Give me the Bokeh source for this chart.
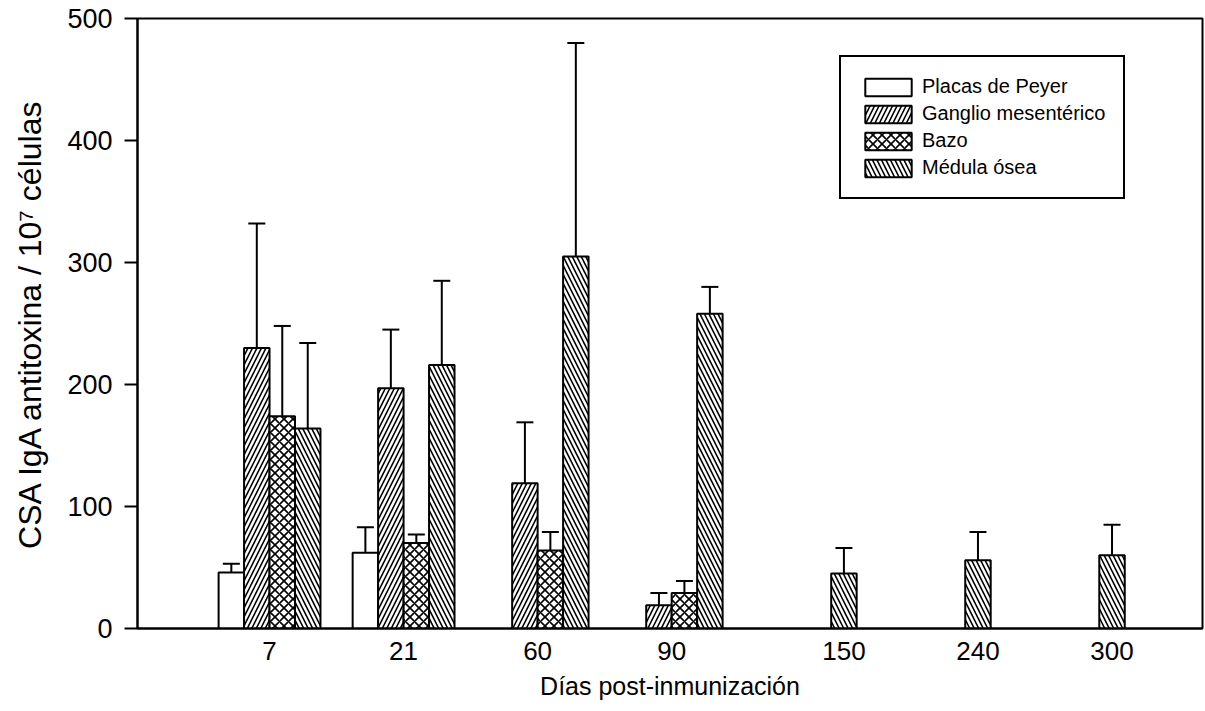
from bokeh.plotting import figure
from bokeh.models import (ColumnDataSource, Range1d, FixedTicker, Whisker, TeeHead,
                          Legend, LegendItem)
from bokeh.embed import file_html
from bokeh.resources import INLINE

# ---- data ----
dias = ["7", "21", "60", "90", "150", "240", "300"]
series_names = ["Placas de Peyer", "Ganglio mesentérico", "Bazo", "Médula ósea"]
placas = [46, 62, None, None, None, None, None]
placas_err = [53, 83, None, None, None, None, None]
ganglio = [230, 197, 119, 19, None, None, None]
ganglio_err = [332, 245, 169, 29, None, None, None]
bazo = [174, 70, 64, 29, None, None, None]
bazo_err = [248, 77, 79, 39, None, None, None]
medula = [164, 216, 305, 258, 45, 56, 60]
medula_err = [234, 285, 480, 280, 66, 79, 85]
y_ticks = [0, 100, 200, 300, 400, 500]

FONT = "Liberation Sans"
W = 0.19  # bar width in group units

p = figure(width=1205, height=711, output_backend="svg", toolbar_location=None,
           x_range=Range1d(0.015, 7.96), y_range=Range1d(0, 500),
           min_border_left=137, min_border_right=3, min_border_top=18,
           min_border_bottom=83)
p.background_fill_color = "white"
p.border_fill_color = "white"
p.outline_line_color = "black"
p.outline_line_width = 2
p.outline_line_alpha = 1
p.xgrid.visible = False
p.ygrid.visible = False

series = [
    (placas, placas_err, None),
    (ganglio, ganglio_err, "/"),
    (bazo, bazo_err, "x"),
    (medula, medula_err, "\\"),
]

legend_items = []
for j, (vals, errs, hatch) in enumerate(series):
    xs, tops, ups = [], [], []
    for i, (v, e) in enumerate(zip(vals, errs)):
        if v is None:
            continue
        xs.append(i + 1 + (j - 1.5) * W)
        tops.append(v)
        ups.append(e)
    src = ColumnDataSource(dict(x=xs, top=tops, up=ups))
    kw = {}
    if hatch:
        kw = dict(hatch_pattern=hatch, hatch_color="black", hatch_scale=9,
                  hatch_weight=1.6)
    r = p.vbar(x="x", top="top", bottom=0, width=W, source=src,
               fill_color="white", line_color="black", line_width=2, **kw)
    legend_items.append(LegendItem(label=series_names[j], renderers=[r]))
    wh = Whisker(source=src, base="x", lower="top", upper="up",
                 line_color="black", line_width=2, lower_head=None,
                 upper_head=TeeHead(size=17, line_color="black", line_width=2))
    p.add_layout(wh)

# x ticks: group centre for the first four, under the bone-marrow bar for the rest
tick_pos = []
overrides = {}
for i, d in enumerate(dias):
    has_others = any(s[0][i] is not None for s in series[:3])
    pos = float(i + 1) if has_others else i + 1 + 1.5 * W
    tick_pos.append(pos)
    overrides[pos] = d

xa = p.xaxis[0]
xa.ticker = FixedTicker(ticks=tick_pos)
xa.major_label_overrides = overrides
xa.major_tick_out = 0
xa.major_tick_in = 0
xa.minor_tick_out = 0
xa.minor_tick_in = 0
xa.axis_line_width = 2
xa.major_label_standoff = 13
xa.major_label_text_font = FONT
xa.major_label_text_font_size = "26px"
xa.major_label_text_color = "black"
xa.axis_label = "Días post-inmunización"
xa.axis_label_text_font = FONT
xa.axis_label_text_font_size = "25px"
xa.axis_label_text_font_style = "normal"
xa.axis_label_text_color = "black"
xa.axis_label_standoff = 9

ya = p.yaxis[0]
ya.ticker = FixedTicker(ticks=y_ticks)
ya.major_tick_out = 13
ya.major_tick_in = 0
ya.minor_tick_out = 0
ya.minor_tick_in = 0
ya.major_tick_line_width = 2
ya.axis_line_width = 2
ya.major_label_standoff = 12
ya.major_label_text_font = FONT
ya.major_label_text_font_size = "27px"
ya.major_label_text_color = "black"
ya.axis_label = "CSA IgA antitoxina / 10⁷ células"
ya.axis_label_text_font = FONT
ya.axis_label_text_font_size = "32px"
ya.axis_label_text_font_style = "normal"
ya.axis_label_text_color = "black"
ya.axis_label_standoff = 16

legend = Legend(items=legend_items, location=(702, 429),
                orientation="vertical",
                border_line_color="black", border_line_width=2,
                border_line_alpha=1,
                background_fill_color="white", background_fill_alpha=1,
                padding=18, spacing=4, margin=0,
                glyph_width=58, glyph_height=22, label_height=22,
                label_standoff=5,
                label_text_font=FONT, label_text_font_size="20px",
                label_text_color="black")
p.add_layout(legend, "center")

open("out.html", "w").write(file_html(p, INLINE))
